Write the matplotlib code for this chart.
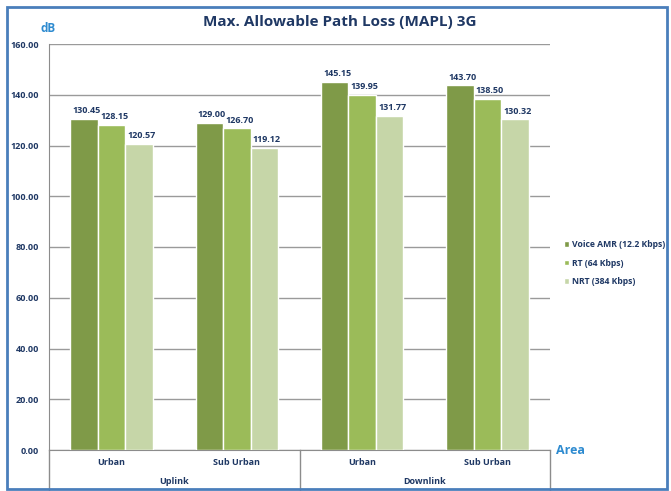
import matplotlib.pyplot as plt
from matplotlib.patches import Rectangle
from matplotlib.transforms import blended_transform_factory
import numpy as np

# Data
areas = ['Urban', 'Sub Urban', 'Urban', 'Sub Urban']
links = ['Uplink', 'Downlink']
series = ['Voice AMR (12.2 Kbps)', 'RT (64 Kbps)', 'NRT (384 Kbps)']
voice = [130.45, 129.00, 145.15, 143.70]
rt = [128.15, 126.70, 139.95, 138.50]
nrt = [120.57, 119.12, 131.77, 130.32]
colors = ['#7F9A48', '#9BBB59', '#C6D6A8']

text_col = '#1F3864'
blue = '#2E8BD0'

plt.rcParams['font.family'] = ['Open Sans', 'DejaVu Sans']
fig = plt.figure(figsize=(6.71, 4.91), dpi=100)

# outer border
fig.patches.append(Rectangle((7/671, 2/491), 660/671, 482/491, transform=fig.transFigure,
                             fill=False, edgecolor='#4A7EBB', linewidth=2))

ax = fig.add_axes([49/671, 41/491, 501/671, 406/491])
x = np.arange(len(areas))
w = 0.22
for i, (vals, col) in enumerate(zip([voice, rt, nrt], colors)):
    pos = x + (i - 1) * w
    bars = ax.bar(pos, vals, w, color=col, edgecolor='white', linewidth=1,
                  label=series[i], zorder=3)
    for b, v in zip(bars, vals):
        ax.text(b.get_x() + b.get_width() / 2 + 0.02, v + 1.5, '%.2f' % v,
                ha='center', va='bottom', fontsize=6.5, fontweight='bold',
                color=text_col, zorder=4)

ax.set_xlim(-0.5, 3.5)
ax.set_ylim(0, 160)
ax.set_yticks(np.arange(0, 161, 20))
ax.set_yticklabels(['%.2f' % v for v in np.arange(0, 161, 20)],
                   fontsize=6.5, fontweight='bold', color=text_col)
ax.yaxis.grid(True, color='#9A9A9A', linewidth=1, zorder=0)
ax.set_axisbelow(True)
ax.tick_params(axis='y', length=0, pad=7)
ax.set_xticks([])
for s in ['top', 'right']:
    ax.spines[s].set_visible(False)
ax.spines['left'].set_color('#8C8C8C')
ax.spines['bottom'].set_color('#8C8C8C')

# two-level category labels
tr = blended_transform_factory(ax.transData, ax.transAxes)
for xi, a in zip(x, areas):
    ax.text(xi, -0.032, a, transform=tr, ha='center', va='center',
            fontsize=6.5, fontweight='bold', color=text_col)
for j, l in enumerate(links):
    ax.text(0.5 + 2 * j, -0.077, l, transform=tr, ha='center', va='center',
            fontsize=6.5, fontweight='bold', color=text_col)
for xb in [-0.5, 1.5, 3.5]:
    ax.plot([xb, xb], [0, -0.1], transform=tr, color='#8C8C8C',
            linewidth=1, clip_on=False)

ax.legend(loc='center left', bbox_to_anchor=(1.012, 0.46), frameon=False,
          handlelength=0.6, handleheight=0.6, handletextpad=0.3, labelspacing=1.1,
          prop={'size': 6.2, 'weight': 'bold'}, labelcolor=text_col)

fig.text(340/671, 1 - 22/491, 'Max. Allowable Path Loss (MAPL) 3G', ha='center',
         va='center', fontsize=11, fontweight='bold', color=text_col)
fig.text(48/671, 1 - 28/491, 'dB', ha='center', va='center', fontsize=8.5,
         fontweight='bold', color=blue)
fig.text(556/671, 1 - 451/491, 'Area', ha='left', va='center', fontsize=9,
         fontweight='bold', color=blue)

fig.savefig('out.png', dpi=100)
